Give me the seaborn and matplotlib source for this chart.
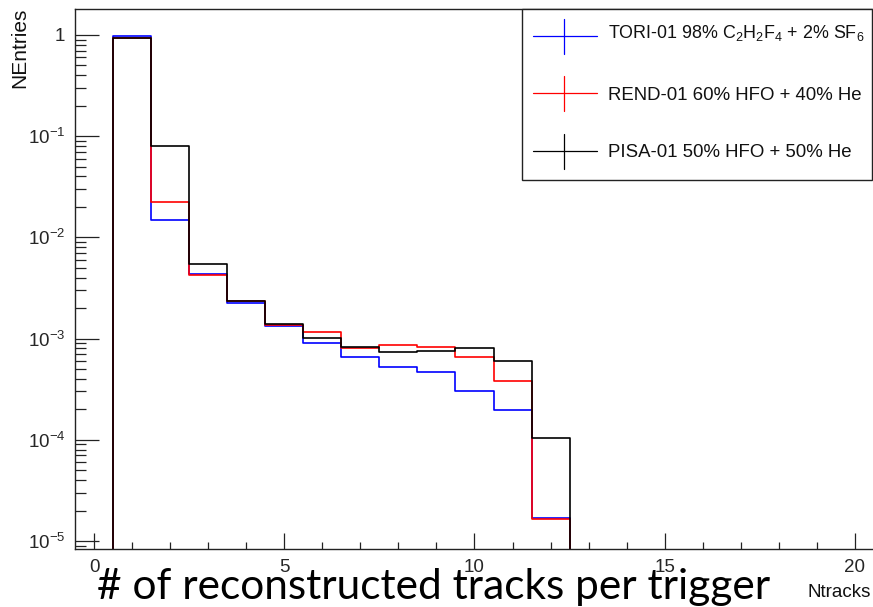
import numpy as np
import pandas as pd
import matplotlib
matplotlib.use("Agg")
import matplotlib.pyplot as plt
import seaborn as sns
from matplotlib.ticker import MultipleLocator, LogLocator, FuncFormatter, NullFormatter, FixedLocator
from matplotlib.lines import Line2D
from matplotlib.patches import Rectangle

# Normalised track-multiplicity distributions per chamber / gas mixture
ntracks = [1, 2, 3, 4, 5, 6, 7, 8, 9, 10, 11, 12]
tori_01 = [0.98, 0.0150, 0.00435, 0.00224, 0.00133, 0.000896, 0.000662,
           0.000528, 0.000465, 0.000306, 0.000195, 1.70e-5]
rend_01 = [0.935, 0.0225, 0.00425, 0.00234, 0.00136, 0.00115, 0.000812,
           0.000863, 0.000830, 0.000662, 0.000384, 1.66e-5]
pisa_01 = [0.928, 0.079, 0.00551, 0.00236, 0.00139, 0.00101, 0.000824,
           0.000736, 0.000758, 0.000800, 0.000600, 1.047e-4]

series_labels = [
    r"TORI-01 98% C$_2$H$_2$F$_4$ + 2% SF$_6$",
    "REND-01 60% HFO + 40% He",
    "PISA-01 50% HFO + 50% He",
]
series_colors = ["#0000ff", "#ff0000", "#000000"]
x_ticks = [0, 5, 10, 15, 20]

df = pd.concat(
    [pd.DataFrame({"ntracks": ntracks, "entries": vals, "chamber": lab})
     for vals, lab in zip([tori_01, rend_01, pisa_01], series_labels)],
    ignore_index=True,
)

sns.set_theme(style="white")
plt.rcParams["font.family"] = ["Liberation Sans", "DejaVu Sans"]
plt.rcParams["mathtext.fontset"] = "custom"
plt.rcParams["mathtext.rm"] = "Liberation Sans"
plt.rcParams["mathtext.it"] = "Liberation Sans:italic"
plt.rcParams["mathtext.bf"] = "Liberation Sans:bold"

W, H = 873, 607
fig = plt.figure(figsize=(W / 100, H / 100), dpi=100)
fig.patch.set_facecolor("white")


def fx(px):
    return px / W


def fy(py):
    return 1 - py / H


# Axes frame in pixel terms: left 75, right 874, top 9, bottom 549
ax = fig.add_axes([fx(75), fy(549), (874 - 75) / W, (549 - 9) / H])
ax.set_facecolor("white")

edges = [e - 0.5 for e in range(0, 22)]
for lab, col in zip(series_labels, series_colors):
    sub = df[df["chamber"] == lab]
    sns.histplot(data=sub, x="ntracks", weights="entries", bins=edges,
                 element="step", fill=False, color=col, linewidth=1.2,
                 ax=ax, legend=False)

ax.set_yscale("log")
ax.set_xlim(-0.5, 20.5)
ax.set_ylim(10 ** -5.079, 10 ** 0.256)

# Axis ticks, drawn inwards
ax.xaxis.set_major_locator(FixedLocator(x_ticks))
ax.xaxis.set_minor_locator(MultipleLocator(1))
ax.yaxis.set_major_locator(LogLocator(base=10, numticks=20))
ax.yaxis.set_minor_locator(LogLocator(base=10, subs=np.arange(2, 10), numticks=20))
ax.yaxis.set_minor_formatter(NullFormatter())


def log_label(v, pos):
    e = int(round(np.log10(v)))
    return "1" if e == 0 else rf"$10^{{{e}}}$"


ax.yaxis.set_major_formatter(FuncFormatter(log_label))

axis_col = "#222222"
ax.tick_params(axis="x", which="major", direction="in", length=11.5, width=0.9,
               color=axis_col, labelsize=13.5, pad=7, bottom=True, top=False)
ax.tick_params(axis="x", which="minor", direction="in", length=5, width=0.9,
               color=axis_col, bottom=True, top=False)
ax.tick_params(axis="y", which="major", direction="in", length=17.5, width=0.9,
               color=axis_col, labelsize=13.5, pad=7, left=True, right=False)
ax.tick_params(axis="y", which="minor", direction="in", length=8, width=0.9,
               color=axis_col, left=True, right=False)
for side in ["left", "bottom", "top", "right"]:
    ax.spines[side].set_visible(True)
    ax.spines[side].set_color(axis_col)
    ax.spines[side].set_linewidth(1.0)
ax.set_xlabel("")
ax.set_ylabel("")
ax.grid(False)

# Axis titles
fig.text(fx(20), fy(8), "NEntries", rotation=90, ha="center", va="top",
         fontsize=15, color="#111111")
fig.text(fx(871), fy(597), "Ntracks", ha="right", va="baseline",
         fontsize=13.5, color="#111111")

# Legend box with error-bar style keys
leg_left, leg_right, leg_top, leg_bottom = 522, 872, 9, 180
fig.patches.append(Rectangle((fx(leg_left), fy(leg_bottom)),
                             fx(leg_right) - fx(leg_left), fy(leg_top) - fy(leg_bottom),
                             transform=fig.transFigure, facecolor="white",
                             edgecolor=axis_col, linewidth=1.0, zorder=5))
key_centers = [36, 93.3, 150.7]
text_baselines = [38.3, 100, 157]
label_sizes = [12.9, 13.4, 13.4]
for lab, col, yc, yb, fs in zip(series_labels, series_colors, key_centers,
                                text_baselines, label_sizes):
    fig.lines.append(Line2D([fx(533), fx(597)], [fy(yc), fy(yc)], color=col,
                            linewidth=0.9, transform=fig.transFigure, zorder=6))
    fig.lines.append(Line2D([fx(564), fx(564)], [fy(yc - 17), fy(yc + 18)], color=col,
                            linewidth=0.9, transform=fig.transFigure, zorder=6))
    fig.text(fx(608), fy(yb), lab, ha="left", va="baseline", fontsize=fs,
             color="#111111", zorder=6)

# Caption spanning the lower part of the figure
cap = fig.text(fx(97), fy(599), "# of reconstructed tracks per trigger",
               ha="left", va="baseline", fontsize=30, family=["Lato", "DejaVu Sans"],
               color="black")
fig.canvas.draw()
bb = cap.get_window_extent()
cap.set_fontsize(30 * (770 - 97) / bb.width)

fig.savefig("out.png", dpi=100, facecolor="white")
